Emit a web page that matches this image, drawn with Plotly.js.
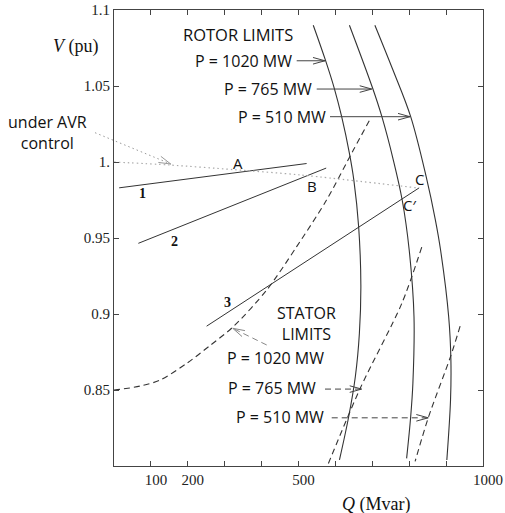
<!DOCTYPE html>
<html><head><meta charset="utf-8">
<script src="https://cdn.plot.ly/plotly-3.0.1.min.js"></script>
<style>html,body{margin:0;padding:0;background:#fff}#chart{width:505px;height:513px}</style>
</head><body><div id="chart"></div>
<script>
// ---- Data (Q in Mvar, V in pu) ----
const rotor1020Q = [540, 573, 597, 617, 638, 650, 663, 669, 665, 654, 636, 611];
const rotor1020V = [1.090, 1.067, 1.0485, 1.0298, 1.0057, 0.9881, 0.9574, 0.919, 0.8873, 0.8587, 0.8324, 0.804];
const rotor765Q = [638, 701, 726, 757, 781, 800, 813, 810, 804, 793];
const rotor765V = [1.090, 1.0485, 1.0298, 1.0013, 0.975, 0.9421, 0.8982, 0.8544, 0.8324, 0.805];
const rotor510Q = [707, 756, 804, 846, 871, 885, 907, 913, 912, 902];
const rotor510V = [1.090, 1.0605, 1.0298, 0.9903, 0.9618, 0.9421, 0.8982, 0.8697, 0.8434, 0.804];

const stator1020Q = [0, 16, 71, 125, 197, 260, 323, 414, 495, 576, 649, 696];
const stator1020V = [0.850, 0.8504, 0.8526, 0.8565, 0.8675, 0.8792, 0.8916, 0.9158, 0.9443, 0.975, 1.008, 1.029];
const stator765Q = [834, 780, 667, 581];
const stator765V = [0.944, 0.907, 0.851, 0.8017];
const stator510Q = [938, 912, 852, 816];
const stator510V = [0.892, 0.872, 0.832, 0.803];

const net1Q = [14, 522];  const net1V = [0.983, 0.999];
const net2Q = [66, 575];  const net2V = [0.9465, 0.996];
const net3Q = [251, 827]; const net3V = [0.892, 0.983];

const avrQ = [0, 152, 323, 504, 820];
const avrV = [1.000, 0.998, 0.995, 0.9915, 0.983];

const xTickVals = [100, 200, 300, 400, 500, 600, 700, 800, 900, 1000];
const xTickText = ['100', '200', '', '', '500', '', '', '', '', '1000'];
const yTickVals = [0.85, 0.9, 0.95, 1.0, 1.05, 1.1];
const yTickText = ['0.85', '0.9', '0.95', '1.', '1.05', '1.1'];

// ---- Traces ----
const dark = '#333';
function line(q, v, dash, color, width, shape, sm) {
  return {x: q, y: v, type: 'scatter', mode: 'lines', hoverinfo: 'skip',
    line: {color: color, width: width, dash: dash, shape: shape || 'linear', smoothing: sm || 0.8}};
}
const traces = [
  line(rotor1020Q, rotor1020V, 'solid', dark, 1.1, 'spline', 1),
  line(rotor765Q, rotor765V, 'solid', dark, 1.1, 'spline', 1),
  line(rotor510Q, rotor510V, 'solid', dark, 1.1, 'spline', 1),
  line(stator1020Q, stator1020V, '6px,4px', dark, 1.1, 'spline', 0.8),
  line(stator765Q, stator765V, '6px,4px', dark, 1.1, 'spline', 0.8),
  line(stator510Q, stator510V, '6px,4px', dark, 1.1, 'spline', 0.8),
  line(net1Q, net1V, 'solid', dark, 1),
  line(net2Q, net2V, 'solid', dark, 1),
  line(net3Q, net3V, 'solid', dark, 1),
  line(avrQ, avrV, '1.5px,3px', '#aaa', 1.2, 'spline', 0.8)
];

// ---- Annotations ----
const sans = 'Open Sans, DejaVu Sans, sans-serif';
const serif = 'Liberation Serif, Times New Roman, serif';
function txt(x, y, text, opts) {
  return Object.assign({x: x, y: y, xref: 'x', yref: 'y', text: text, showarrow: false,
    font: {family: sans, size: 16, color: '#111'}, xanchor: 'center', yanchor: 'middle'}, opts || {});
}
const annotations = [
  txt(336, 1.0842, 'ROTOR LIMITS', {font: {family: sans, size: 16.5, color: '#111'}}),
  txt(488, 1.0666, 'P = 1020 MW', {xanchor: 'right'}),
  txt(542, 1.048, 'P = 765 MW', {xanchor: 'right'}),
  txt(581, 1.0298, 'P = 510 MW', {xanchor: 'right'}),
  txt(521, 0.894, 'STATOR<br>LIMITS'),
  txt(438, 0.8708, 'P = 1020 MW'),
  txt(554, 0.8511, 'P = 765 MW', {xanchor: 'right'}),
  txt(574, 0.8324, 'P = 510 MW', {xanchor: 'right'}),
  txt(337, 0.9991, 'A', {font: {family: sans, size: 15, color: '#111'}}),
  txt(536, 0.9842, 'B', {font: {family: sans, size: 15, color: '#111'}}),
  txt(829, 0.9886, 'C', {font: {family: sans, size: 15, color: '#111'}}),
  txt(800, 0.9717, 'C\u2032', {font: {family: sans, size: 15, color: '#111'}}),
  txt(78, 0.9794, '<b>1</b>', {font: {family: serif, size: 14, color: '#111'}}),
  txt(165, 0.948, '<b>2</b>', {font: {family: serif, size: 14, color: '#111'}}),
  txt(308, 0.9074, '<b>3</b>', {font: {family: serif, size: 14, color: '#111'}}),
  {xref: 'paper', yref: 'paper', x: -0.1797, y: 0.7314, text: 'under AVR<br>control', showarrow: false,
    font: {family: sans, size: 16, color: '#111'}, xanchor: 'center', yanchor: 'middle'},
  {xref: 'paper', yref: 'paper', x: -0.1035, y: 0.9195, text: '<i>V</i> (pu)', showarrow: false,
    font: {family: serif, size: 18, color: '#111'}, xanchor: 'center', yanchor: 'middle'},
  {xref: 'paper', yref: 'paper', x: 0.7095, y: -0.0855, text: '<i>Q</i> (Mvar)', showarrow: false,
    font: {family: serif, size: 18, color: '#111'}, xanchor: 'center', yanchor: 'middle'}
];

// ---- Leader arrows: tip position + tail offset in screen pixels ----
const leaders = [
  {x: 571.8, y: 1.0666, ref: 'data', ax: -28.3, ay: 0, dash: 'solid', color: '#444'},
  {x: 698.4, y: 1.048, ref: 'data', ax: -55, ay: 0, dash: 'solid', color: '#444'},
  {x: 802.2, y: 1.0298, ref: 'data', ax: -80, ay: 0, dash: 'solid', color: '#444'},
  {x: 321.7, y: 0.8906, ref: 'data', ax: 34, ay: 16.7, dash: '6px,4px', color: '#888'},
  {x: 671.3, y: 0.8506, ref: 'data', ax: -36.7, ay: 0, dash: '6px,4px', color: '#444'},
  {x: 851.8, y: 0.8317, ref: 'data', ax: -96.6, ay: 0, dash: '6px,4px', color: '#444'},
  {x: 0.1537, y: 0.6623, ref: 'paper', ax: -75.7, ay: -31.3, dash: '1.5px,3px', color: '#999'}
];
const shapes = [];
leaders.forEach(function (l) {
  const xr = l.ref === 'paper' ? 'paper' : 'x';
  const yr = l.ref === 'paper' ? 'paper' : 'y';
  const base = {xref: xr, yref: yr, xsizemode: 'pixel', ysizemode: 'pixel', xanchor: l.x, yanchor: l.y};
  shapes.push(Object.assign({type: 'line', x0: l.ax, y0: -l.ay, x1: 0, y1: 0,
    line: {color: l.color, width: 1, dash: l.dash}}, base));
  const len = Math.hypot(l.ax, l.ay);
  const dx = -l.ax / len, dy = -l.ay / len; // direction tail->tip (screen)
  const nx = -dy, ny = dx;
  const L = 12, W = 3.3;
  const p1 = [-L * dx + W * nx, -L * dy + W * ny];
  const p2 = [-L * dx - W * nx, -L * dy - W * ny];
  shapes.push(Object.assign({type: 'path',
    path: 'M' + p1[0].toFixed(2) + ',' + (-p1[1]).toFixed(2) + ' L0,0 L' + p2[0].toFixed(2) + ',' + (-p2[1]).toFixed(2),
    line: {color: l.color, width: 1}}, base));
});

const axisCommon = {showgrid: false, zeroline: false, showline: true, linecolor: '#444', linewidth: 1,
  mirror: 'ticks', ticks: 'inside', ticklen: 5, tickwidth: 1, tickcolor: '#444',
  tickfont: {family: serif, size: 15, color: '#222'}};

const layout = {
  width: 505, height: 513, autosize: false,
  margin: {l: 114, r: 22, t: 10, b: 47, pad: 0},
  paper_bgcolor: '#fff', plot_bgcolor: '#fff', showlegend: false,
  xaxis: Object.assign({}, axisCommon, {range: [0, 1000], tickmode: 'array', tickvals: xTickVals,
    ticktext: xTickText, ticklabelshift: 5}),
  yaxis: Object.assign({}, axisCommon, {range: [0.8, 1.1], tickmode: 'array', tickvals: yTickVals,
    ticktext: yTickText}),
  annotations: annotations,
  shapes: shapes
};

Plotly.newPlot('chart', traces, layout, {displayModeBar: false, staticPlot: true});
</script>
</body></html>
